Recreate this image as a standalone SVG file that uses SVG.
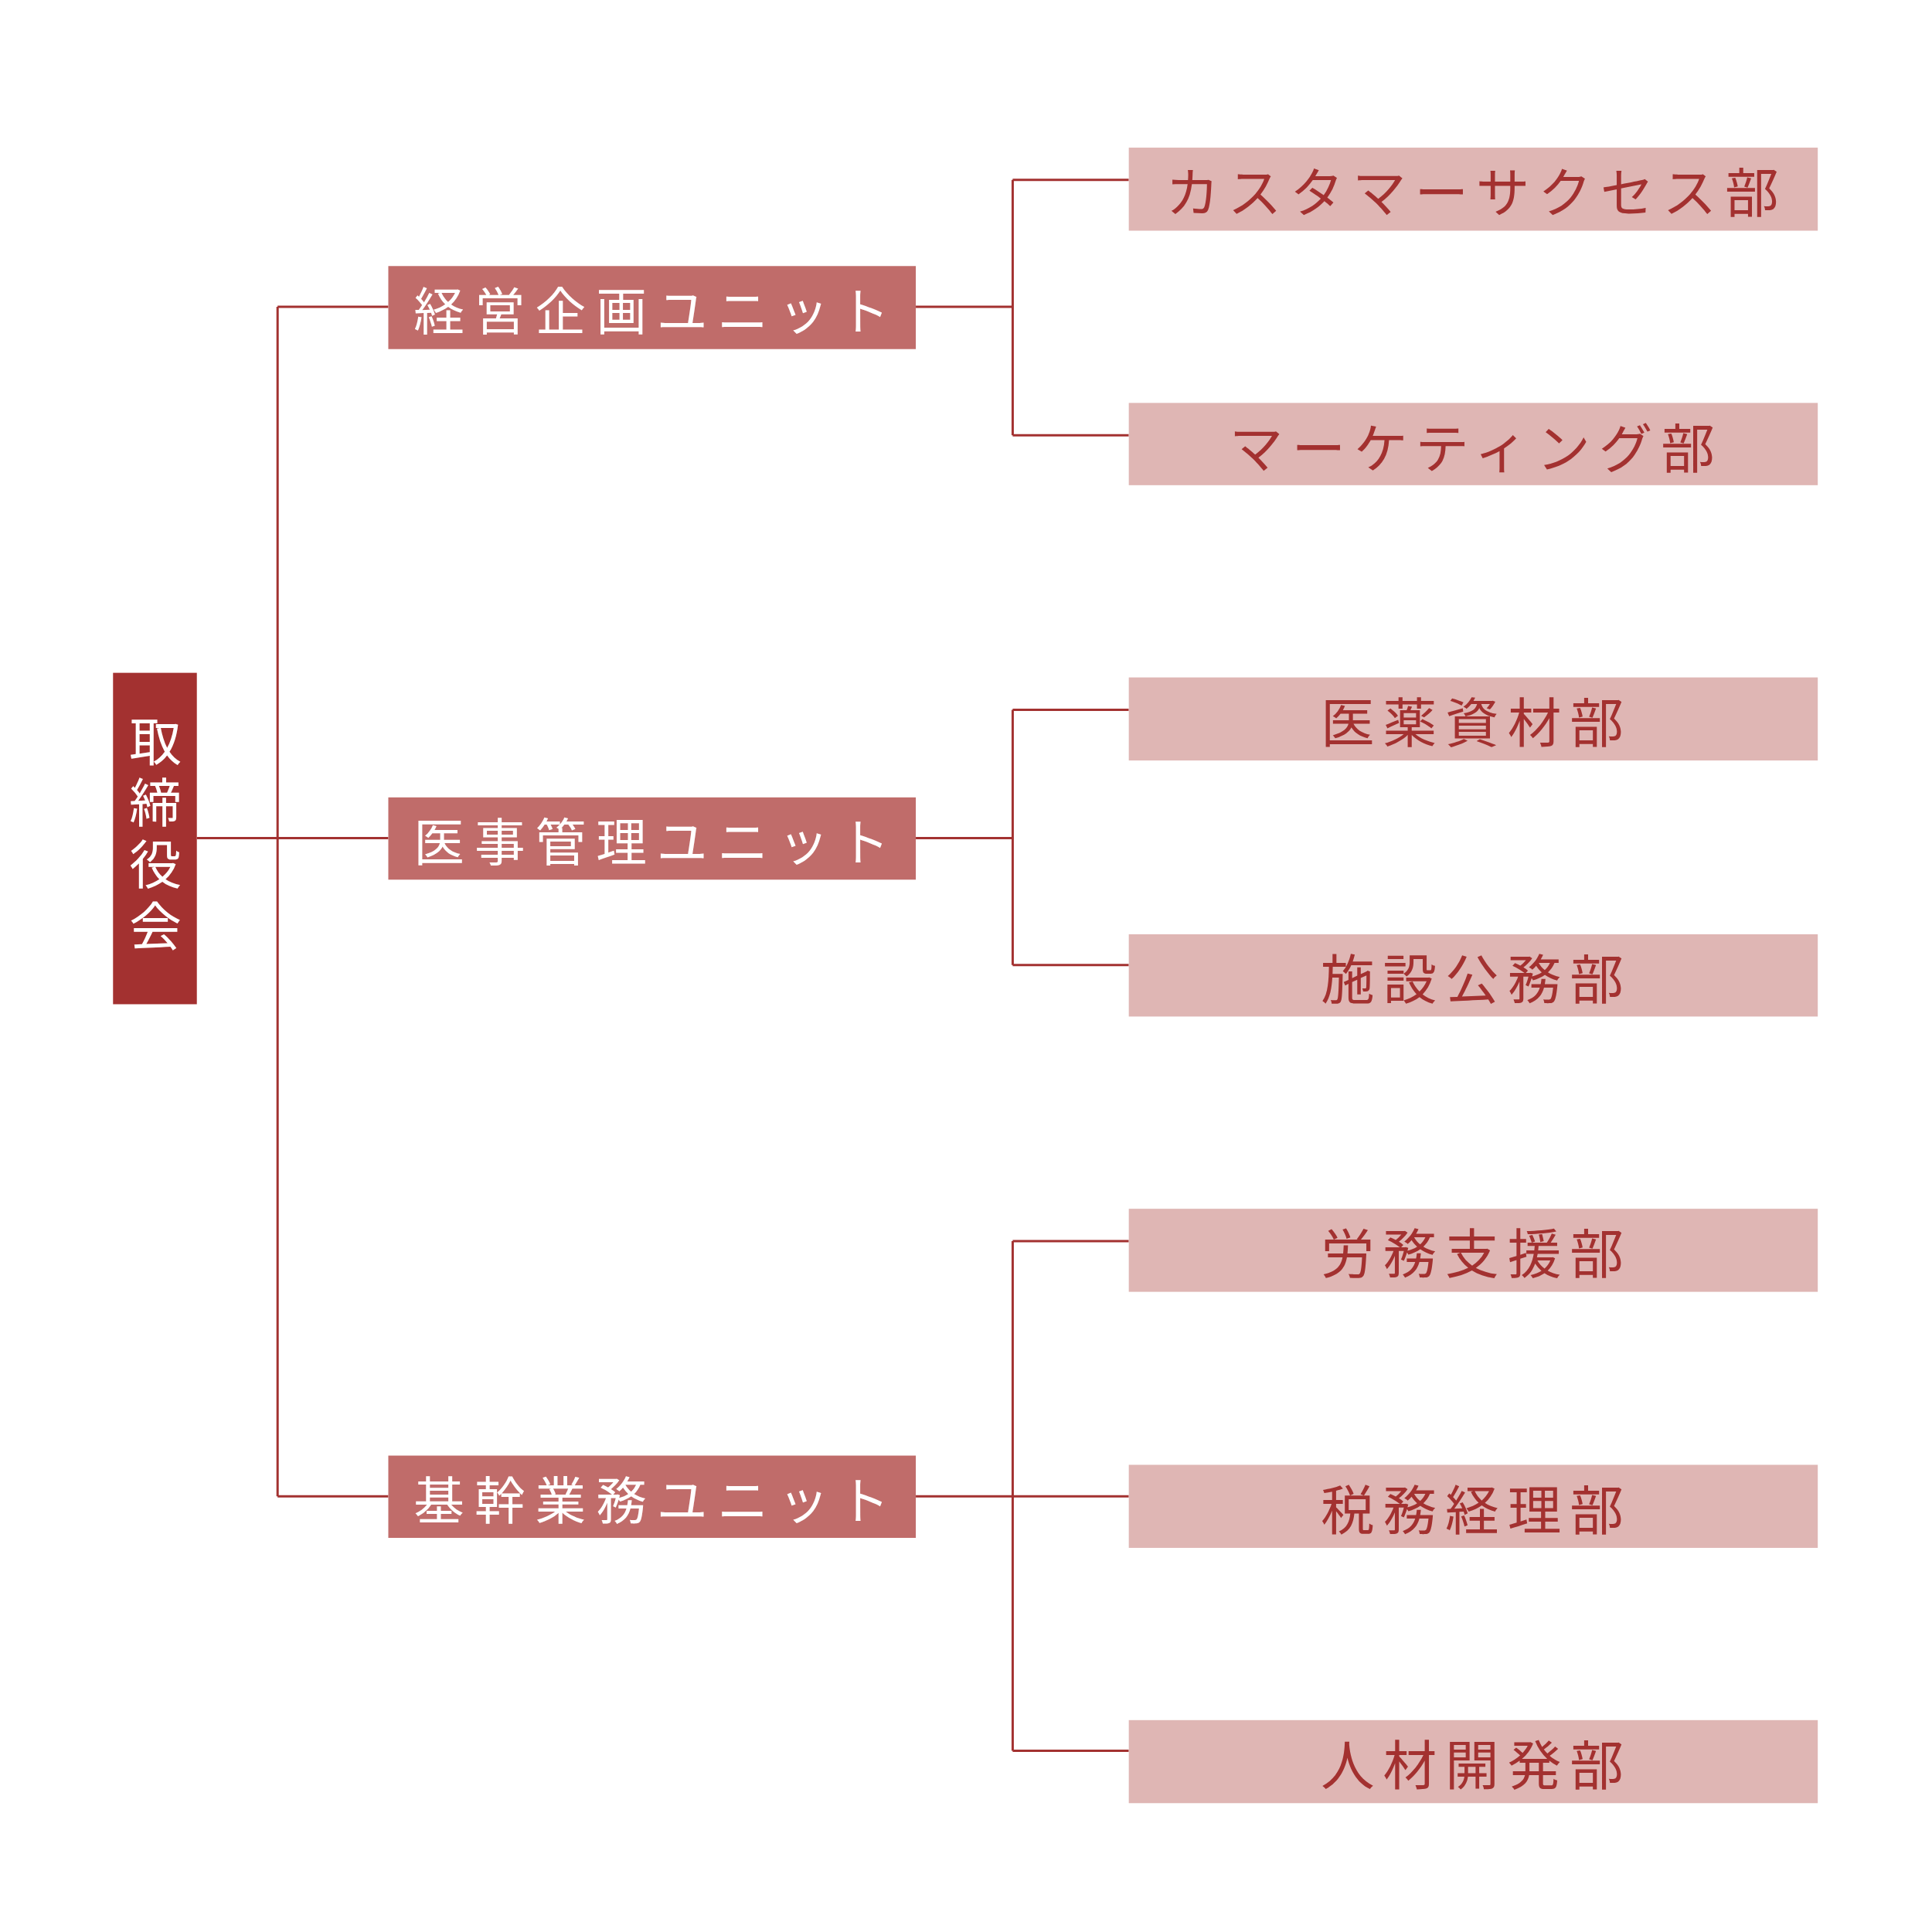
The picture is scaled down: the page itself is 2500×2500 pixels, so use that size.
<svg xmlns="http://www.w3.org/2000/svg" width="2500" height="2500" viewBox="0 0 2500 2500">
<style>
.t{font-family:"Noto Sans CJK JP","Noto Sans",sans-serif;dominant-baseline:central;text-anchor:middle}
.u{fill:#C06C6A}.d{fill:#DFB6B4}
.ut{fill:#fff;font-size:66px;letter-spacing:13px}
.dt{fill:#A33130;font-size:70px;letter-spacing:11px}
.c{fill:none;stroke:#A33130;stroke-width:3}
</style>
<rect width="2500" height="2500" fill="#fff"/>
<g transform="scale(0.995)">
<g id="connectors" class="c">
<path d="M256 1090H505M361 399V1946M361 399H505M361 1946H505"/>
<path d="M1191 399H1317M1317 234V566M1317 234H1468M1317 566H1468"/>
<path d="M1191 1090H1317M1317 923V1255M1317 923H1468M1317 1255H1468"/>
<path d="M1191 1946H1468M1317 1614V2277M1317 1614H1468M1317 2277H1468"/>
</g>
<g id="board"><rect x="147" y="875" width="109" height="431" fill="#A33130"/>
<text class="t" x="202" y="1090" fill="#fff" font-size="68" writing-mode="vertical-rl" letter-spacing="12">取締役会</text></g>
<g id="u1"><rect class="u" x="505" y="346" width="686" height="108"/><text class="t ut" x="854" y="400">経営企画ユニット</text></g>
<g id="u2"><rect class="u" x="505" y="1037" width="686" height="107"/><text class="t ut" x="854" y="1091">医事管理ユニット</text></g>
<g id="u3"><rect class="u" x="505" y="1893" width="686" height="107"/><text class="t ut" x="854" y="1947">基幹業務ユニット</text></g>
<g id="d1"><rect class="d" x="1468" y="192" width="896" height="108"/><text class="t dt" x="1920" y="246">カスタマーサクセス部</text></g>
<g id="d2"><rect class="d" x="1468" y="524" width="896" height="107"/><text class="t dt" x="1920" y="578">マーケティング部</text></g>
<g id="d3"><rect class="d" x="1468" y="881" width="896" height="108"/><text class="t dt" x="1920" y="935">医薬資材部</text></g>
<g id="d4"><rect class="d" x="1468" y="1215" width="896" height="107"/><text class="t dt" x="1920" y="1269">施設公務部</text></g>
<g id="d5"><rect class="d" x="1468" y="1572" width="896" height="108"/><text class="t dt" x="1920" y="1626">労務支援部</text></g>
<g id="d6"><rect class="d" x="1468" y="1905" width="896" height="108"/><text class="t dt" x="1920" y="1959">税務経理部</text></g>
<g id="d7"><rect class="d" x="1468" y="2237" width="896" height="108"/><text class="t dt" x="1920" y="2291">人材開発部</text></g>
</g>
</svg>
